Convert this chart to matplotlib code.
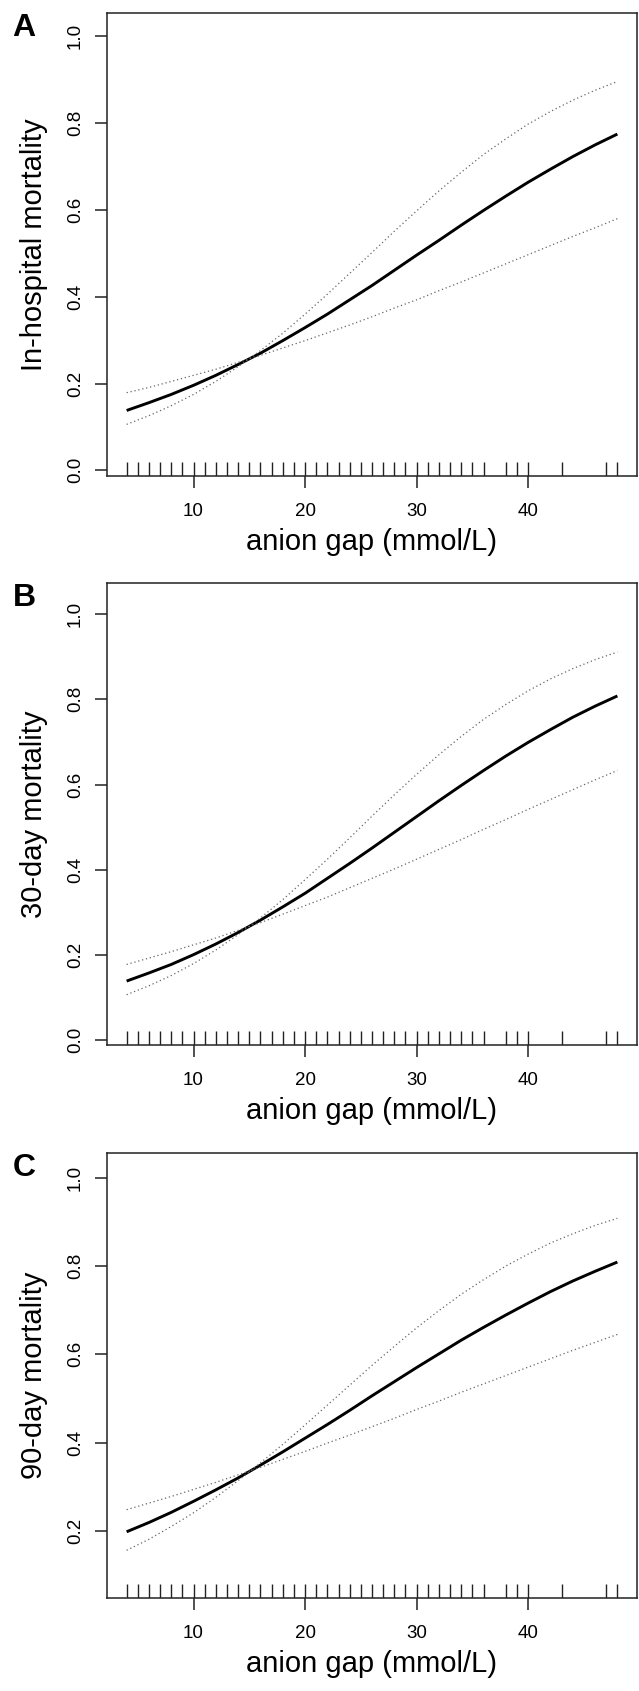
import matplotlib.pyplot as plt

plt.rcParams['font.family'] = ['Liberation Sans', 'DejaVu Sans']

# anion gap values where the curves were read
ag = [4, 6, 8, 10, 12, 14, 16, 18, 20, 22, 24, 26, 28, 30, 32, 34, 36, 38, 40, 42, 44, 46, 48]

# A) in-hospital mortality
a_fit = [0.138, 0.156, 0.175, 0.196, 0.219, 0.244, 0.270, 0.299, 0.329, 0.360, 0.393, 0.426,
         0.461, 0.496, 0.530, 0.565, 0.599, 0.632, 0.664, 0.694, 0.723, 0.750, 0.775]
a_ci1 = [0.106, 0.126, 0.149, 0.175, 0.205, 0.239, 0.276, 0.316, 0.360, 0.406, 0.454, 0.502,
         0.551, 0.598, 0.644, 0.687, 0.728, 0.764, 0.798, 0.827, 0.853, 0.876, 0.896]
a_ci2 = [0.179, 0.191, 0.205, 0.219, 0.233, 0.249, 0.265, 0.282, 0.299, 0.317, 0.335, 0.354,
         0.374, 0.393, 0.414, 0.434, 0.455, 0.476, 0.497, 0.518, 0.539, 0.559, 0.580]

# B) 30-day mortality
b_fit = [0.139, 0.158, 0.178, 0.201, 0.226, 0.253, 0.282, 0.313, 0.345, 0.380, 0.415, 0.451,
         0.488, 0.525, 0.562, 0.598, 0.633, 0.667, 0.699, 0.729, 0.758, 0.784, 0.808]
b_ci1 = [0.107, 0.128, 0.152, 0.180, 0.212, 0.248, 0.287, 0.330, 0.377, 0.425, 0.475, 0.526,
         0.576, 0.624, 0.670, 0.713, 0.753, 0.788, 0.820, 0.848, 0.872, 0.893, 0.911]
b_ci2 = [0.178, 0.193, 0.208, 0.224, 0.240, 0.258, 0.276, 0.296, 0.316, 0.336, 0.358, 0.380,
         0.402, 0.425, 0.448, 0.471, 0.495, 0.518, 0.542, 0.565, 0.588, 0.611, 0.633]

# C) 90-day mortality
c_fit = [0.198, 0.219, 0.242, 0.267, 0.293, 0.320, 0.349, 0.379, 0.410, 0.441, 0.473, 0.506,
         0.538, 0.570, 0.601, 0.632, 0.661, 0.689, 0.716, 0.742, 0.766, 0.788, 0.809]
c_ci1 = [0.156, 0.181, 0.210, 0.241, 0.276, 0.314, 0.354, 0.396, 0.440, 0.485, 0.530, 0.575,
         0.618, 0.660, 0.699, 0.736, 0.769, 0.800, 0.827, 0.852, 0.873, 0.892, 0.908]
c_ci2 = [0.248, 0.263, 0.278, 0.294, 0.310, 0.327, 0.344, 0.362, 0.380, 0.399, 0.417, 0.436,
         0.455, 0.475, 0.494, 0.514, 0.533, 0.552, 0.571, 0.590, 0.609, 0.627, 0.645]

# rug of observed anion gap values
rug = list(range(4, 37)) + [38, 39, 40, 43, 47, 48]

panels = [
    ('A', 'In-hospital mortality', a_fit, a_ci1, a_ci2, [0.0, 0.2, 0.4, 0.6, 0.8, 1.0], (-0.013, 1.054)),
    ('B', '30-day mortality', b_fit, b_ci1, b_ci2, [0.0, 0.2, 0.4, 0.6, 0.8, 1.0], (-0.011, 1.073)),
    ('C', '90-day mortality', c_fit, c_ci1, c_ci2, [0.2, 0.4, 0.6, 0.8, 1.0], (0.048, 1.056)),
]

# axes boxes in pixels: (top, bottom)
boxes = [(13, 476), (583, 1045), (1153, 1598)]

W, H = 639, 1691
fig = plt.figure(figsize=(W / 100, H / 100), dpi=100)

for (letter, ylab, fit, ci1, ci2, yt, ylim), (top, bot) in zip(panels, boxes):
    ax = fig.add_axes([107 / W, 1 - bot / H, 530 / W, (bot - top) / H])
    ax.plot(ag, fit, color='black', lw=2.1, solid_capstyle='butt')
    ax.plot(ag, ci1, color='#666666', lw=0.9, linestyle=(0, (1, 2.2)))
    ax.plot(ag, ci2, color='#666666', lw=0.9, linestyle=(0, (1, 2.2)))
    ax.vlines(rug, 0, 0.031, transform=ax.get_xaxis_transform(), color='#222222', lw=1.0)

    ax.set_xlim(2.24, 49.76)
    ax.set_ylim(*ylim)
    ax.set_xticks([10, 20, 30, 40])
    ax.set_yticks(yt)
    ax.set_yticklabels(['%.1f' % v for v in yt], rotation=90, va='center')
    ax.tick_params(axis='both', direction='out', length=8.5, width=1.1, labelsize=13.5, color='#222222')
    ax.tick_params(axis='x', pad=11)
    ax.tick_params(axis='y', pad=8)
    for s in ax.spines.values():
        s.set_linewidth(1.1)
        s.set_color('#222222')

    ax.set_xlabel('anion gap (mmol/L)', fontsize=21, labelpad=6)
    ax.set_ylabel(ylab, fontsize=21, labelpad=14)
    fig.text(24 / W, 1 - (top + 15) / H, letter, fontsize=23, fontweight='bold', ha='center', va='center')

fig.savefig('out.png', dpi=100)
